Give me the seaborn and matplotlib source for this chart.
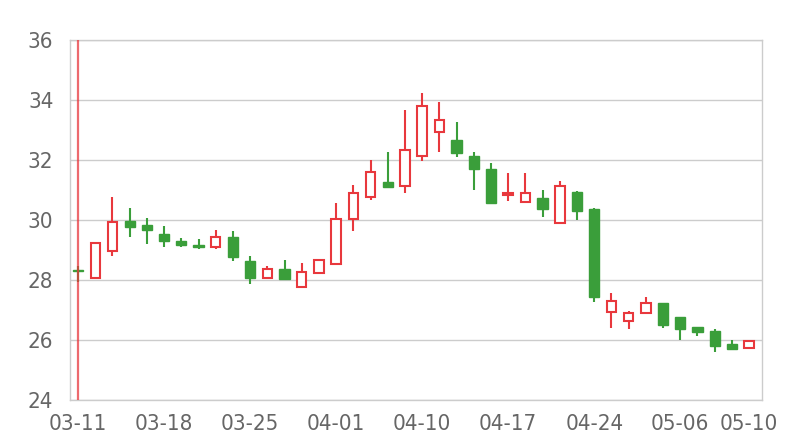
import numpy as np
import pandas as pd
import matplotlib
matplotlib.use("Agg")
import matplotlib.pyplot as plt
import seaborn as sns

# trading days (2024), shown as MM-DD
dates = ["03-11", "03-12", "03-13", "03-14", "03-15",
         "03-18", "03-19", "03-20", "03-21", "03-22",
         "03-25", "03-26", "03-27", "03-28", "03-29",
         "04-01", "04-02", "04-03", "04-08", "04-09",
         "04-10", "04-11", "04-12", "04-15", "04-16",
         "04-17", "04-18", "04-19", "04-22", "04-23",
         "04-24", "04-25", "04-26", "04-29", "04-30",
         "05-06", "05-07", "05-08", "05-09", "05-10"]

opens = [28.33, 28.08, 28.98, 29.96, 29.82, 29.54, 29.30, 29.17, 29.10, 29.42,
         28.63, 28.06, 28.36, 27.78, 28.22, 28.53, 30.02, 30.78, 31.28, 31.14,
         32.13, 32.94, 32.66, 32.13, 31.69, 30.82, 30.59, 30.72, 29.89, 30.92,
         30.36, 26.92, 26.63, 26.89, 27.22, 26.78, 26.42, 26.31, 25.87, 25.72]
closes = [28.30, 29.24, 29.92, 29.78, 29.67, 29.29, 29.17, 29.11, 29.42, 28.77,
          28.06, 28.36, 28.03, 28.28, 28.67, 30.02, 30.91, 31.61, 31.11, 32.33,
          33.80, 33.32, 32.22, 31.69, 30.56, 30.89, 30.89, 30.36, 31.13, 30.30,
          27.44, 27.31, 26.91, 27.24, 26.51, 26.37, 26.27, 25.81, 25.69, 25.97]
highs = [28.47, 29.24, 30.78, 30.39, 30.06, 29.79, 29.39, 29.36, 29.67, 29.63,
         28.79, 28.47, 28.67, 28.58, 28.67, 30.58, 31.17, 32.00, 32.26, 33.67,
         34.24, 33.94, 33.27, 32.28, 31.91, 31.58, 31.56, 31.00, 31.30, 30.97,
         30.39, 27.56, 26.97, 27.43, 27.22, 26.78, 26.42, 26.37, 26.00, 25.97]
lows = [27.95, 28.08, 28.80, 29.42, 29.20, 29.10, 29.10, 29.04, 29.03, 28.64,
        27.87, 28.02, 28.03, 27.78, 28.22, 28.53, 29.63, 30.67, 31.11, 30.91,
        31.98, 32.28, 32.11, 31.00, 30.56, 30.63, 30.59, 30.11, 29.86, 30.00,
        27.26, 26.41, 26.37, 26.86, 26.41, 26.00, 26.14, 25.59, 25.69, 25.72]

tick_idx = [0, 5, 10, 15, 20, 25, 30, 35, 39]

RED = "#e8383d"
GREEN = "#3a9e3a"

df = pd.DataFrame({"date": dates, "open": opens, "close": closes,
                   "high": highs, "low": lows})
df["i"] = np.arange(len(df))
df["up"] = df["close"] >= df["open"]

sns.set_style("whitegrid")
plt.rcParams['font.family'] = ['DejaVu Sans']
plt.rcParams['font.stretch'] = 'condensed'

fig = plt.figure(figsize=(8, 4.4), dpi=100)
ax = fig.add_axes([0.0875, 0.0909, 0.865, 0.818])

up = df[df["up"]]
dn = df[~df["up"]]

# wicks
ax.vlines(up["i"], up["low"], up["high"], color=RED, lw=1.5, zorder=2)
ax.vlines(dn["i"], dn["low"], dn["high"], color=GREEN, lw=1.5, zorder=2)

# bodies
h_up = (up["close"] - up["open"]).clip(lower=0.05)
ax.bar(up["i"], h_up, bottom=up["open"], width=0.55, facecolor="white",
       edgecolor=RED, linewidth=1.5, zorder=3)
h_dn = (dn["open"] - dn["close"]).clip(lower=0.05)
ax.bar(dn["i"], h_dn, bottom=dn["close"], width=0.6, facecolor=GREEN,
       edgecolor=GREEN, linewidth=1, zorder=3)

ax.axvline(0, color=RED, lw=1.6, alpha=0.75, zorder=4)

ax.set_xlim(-0.47, 39.75)
ax.set_ylim(24, 36)
ax.set_yticks([24, 26, 28, 30, 32, 34, 36])
ax.set_xticks(tick_idx)
ax.set_xticklabels([dates[k] for k in tick_idx])
ax.grid(axis="x", visible=False)
ax.grid(axis="y", color="#cccccc", lw=1)
for s in ax.spines.values():
    s.set_color("#cccccc")
    s.set_linewidth(1)
ax.tick_params(axis="both", length=0, labelsize=16, colors="#666666")
ax.tick_params(axis="x", pad=10)
ax.tick_params(axis="y", pad=12)

fig.savefig("out.png", dpi=100)
